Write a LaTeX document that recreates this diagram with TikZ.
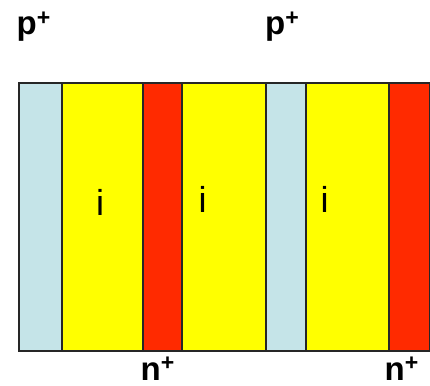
\documentclass[tikz,border=0pt]{standalone}
\usepackage{fontspec}
\setmainfont{Liberation Sans}
\begin{document}
\begin{tikzpicture}[x=1pt,y=-1pt,
  band/.style={draw=black!85,line width=1.3pt},
  lblue/.style={band,fill=cLB},
  yel/.style={band,fill=cY},
  rd/.style={band,fill=cR},
  lab/.style={font=\bfseries\fontsize{33}{33}\selectfont,inner sep=0pt,anchor=base west},
  ilab/.style={font=\fontsize{36}{36}\selectfont,inner sep=0pt,anchor=base}]
\definecolor{cLB}{RGB}{197,228,232}
\definecolor{cY}{RGB}{255,255,0}
\definecolor{cR}{RGB}{255,42,0}
\useasboundingbox (0,0) rectangle (430,385);
\path[lblue] (19,83) rectangle (62,351);
\path[yel] (62,83) rectangle (143,351);
\path[rd] (143,83) rectangle (182,351);
\path[yel] (182,83) rectangle (266,351);
\path[lblue] (266,83) rectangle (306,351);
\path[yel] (306,83) rectangle (389,351);
\path[rd] (389,83) rectangle (429.3,351);
\node[ilab] (i1) at (100,215) {i};
\node[ilab] (i2) at (202.5,212) {i};
\node[ilab] (i3) at (324.5,212) {i};
\node[lab] (p1) at (16.5,35) {p\textsuperscript{+}};
\node[lab] (p2) at (265,35) {p\textsuperscript{+}};
\node[lab] (n1) at (140.5,380) {n\textsuperscript{+}};
\node[lab] (n2) at (384.5,380) {n\textsuperscript{+}};
\end{tikzpicture}
\end{document}
